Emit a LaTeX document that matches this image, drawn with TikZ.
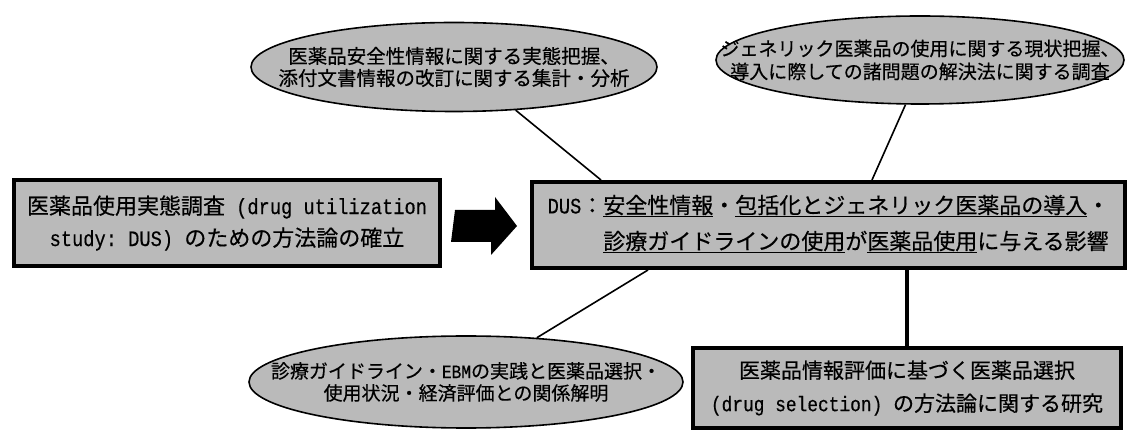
\documentclass[tikz,border=0pt]{standalone}
\usepackage{fontspec}
\setmainfont{Noto Sans CJK JP}[FakeBold=0.4]
\newfontfamily\lat[FakeStretch=0.85,FakeBold=0.4]{Liberation Mono}
\usetikzlibrary{shapes.geometric,calc}
\tikzset{
  halftone/.style={fill=black!27},
  rbox/.style={draw, line width=4pt, halftone, inner sep=0pt, align=center},
  oval/.style={ellipse, draw, line width=1.6pt, halftone, inner sep=0pt},
  txt/.style={align=center, inner sep=0pt},
  conn/.style={line width=1.6pt},
  thickconn/.style={line width=4pt},
}
\begin{document}
\begin{tikzpicture}[x=1pt,y=-1pt]
\useasboundingbox (0,0) rectangle (1135,435);

% boxes
\node[rbox, minimum width=426pt, minimum height=86pt,
      font=\fontsize{22}{32}\selectfont] (L) at (227,223)
  {医薬品使用実態調査{\lat~(drug~utilization}\\{\lat study:~DUS)~}のための方法論の確立};

\node[rbox, minimum width=593pt, minimum height=86pt,
      font=\fontsize{22}{32}\selectfont] (C) at (828.5,225)
  {\begin{tabular}{@{}l@{}l@{}}
   {\lat DUS}：&\underline{安全性情報}・\underline{包括化とジェネリック医薬品の導入}・\\[4pt]
   &\underline{診療ガイドラインの使用}が\underline{医薬品使用}に与える影響
   \end{tabular}};

\node[rbox, minimum width=428pt, minimum height=80pt,
      font=\fontsize{21}{33}\selectfont] (BR) at (907,388)
  {医薬品情報評価に基づく医薬品選択\\{\lat (drug~selection)~}の方法論に関する研究};

% ellipses
\node[oval, minimum width=406pt, minimum height=89pt] (E1) at (454,67) {};
\node[txt, font=\fontsize{19.5}{22}\selectfont] (T1) at (E1)
  {医薬品安全性情報に関する実態把握、\\添付文書情報の改訂に関する集計・分析};

\node[oval, minimum width=408pt, minimum height=88pt] (E2) at (920,60) {};
\node[txt, font=\fontsize{19}{23}\selectfont] (T2) at (E2)
  {ジェネリック医薬品の使用に関する現状把握、\\導入に際しての諸問題の解決法に関する調査};

\node[oval, minimum width=434pt, minimum height=92pt] (E3) at (466,382) {};
\node[txt, font=\fontsize{19}{22}\selectfont] (T3) at (E3)
  {診療ガイドライン・{\lat EBM}の実践と医薬品選択・\\使用状況・経済評価との関係解明};

% connectors
\draw[conn] (E1.-35) -- ($(C.north west)+(71,0)$);
\draw[conn] (E2.-108) -- ($(C.north west)+(342,0)$);
\draw[conn] (E3.32) -- ($(C.south west)+(118,0)$);
\draw[thickconn] (C.south -| BR.north) -- (BR.north);

% block arrow from L to C
\coordinate (a0) at ($(L.east)+(13,3)$);
\coordinate (a1) at ($(C.west)+(-13,1)$);
\fill (a0) ++(0,-16) -- ++(40,0) -- ++(0,-13) -- (a1) -- ++(-26,29) -- ++(0,-13) -- ++(-40,0) -- cycle;
\end{tikzpicture}
\end{document}
